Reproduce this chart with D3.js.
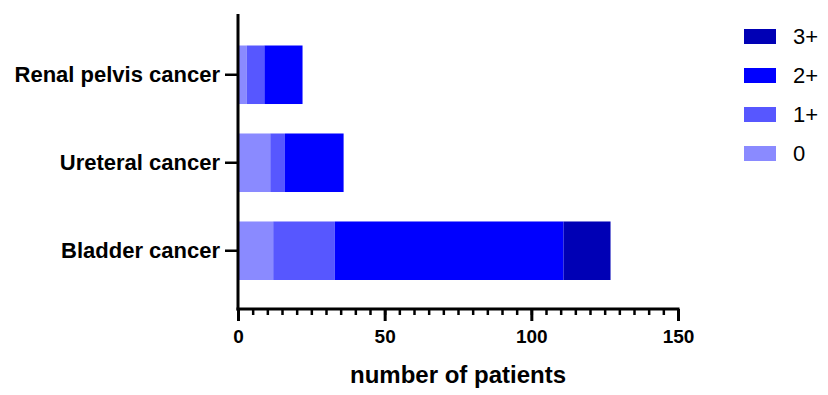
<!DOCTYPE html>
<html lang="en">
<head>
<meta charset="UTF-8">
<title>number of patients</title>
<style>
    body { margin: 0; background: #fff; }
    svg text { font-family: "Liberation Sans", Arial, sans-serif; }
    .axis path, .axis line { stroke: #000; }
</style>
<script src="https://d3js.org/d3.v7.min.js"></script>
</head>
<body>
<div id="chart"></div>
<script>
    // data
    var cancers = ["Renal pelvis cancer", "Ureteral cancer", "Bladder cancer"];
    var grades = ["0", "1+", "2+", "3+"];
    var grade0 = [3, 11, 12];
    var grade1 = [6, 5, 21];
    var grade2 = [13, 20, 78];
    var grade3 = [0, 0, 16];
    var xTicks = [0, 50, 100, 150];
    var colors = ["#8a8aff", "#5757ff", "#0000ff", "#0000b5"];

    var width = 828, height = 395;

    var rows = cancers.map(function(c, i) {
        return {cancer: c, "0": grade0[i], "1+": grade1[i], "2+": grade2[i], "3+": grade3[i]};
    });
    var stacked = d3.stack().keys(grades)(rows);

    var svg = d3.select("#chart").append("svg")
        .attr("width", width)
        .attr("height", height);

    var x = d3.scaleLinear().domain([0, 150]).range([238, 678]);

    var y = d3.scaleBand().domain(cancers)
        .range([45.5, 280]).paddingInner(0.335).paddingOuter(0);

    // bars
    svg.append("g").selectAll("g")
        .data(stacked)
        .enter().append("g")
        .attr("fill", function(d, i) { return colors[i]; })
        .selectAll("rect")
        .data(function(d) { return d; })
        .enter().append("rect")
        .attr("x", function(d) { return x(d[0]); })
        .attr("width", function(d) { return x(d[1]) - x(d[0]); })
        .attr("y", function(d) { return y(d.data.cancer); })
        .attr("height", y.bandwidth());

    // x axis, minor ticks every 5
    var axisY = 309;
    svg.append("g")
        .attr("class", "axis")
        .attr("transform", "translate(0," + axisY + ")")
        .call(d3.axisBottom(x).tickValues(d3.range(0, 151, 5)).tickSize(6).tickFormat(""))
        .call(function(g) {
            g.select(".domain").attr("stroke-width", 3).attr("d", "M" + (x(0) - 1.5) + ",0H" + (x(150) + 1.5));
            g.selectAll(".tick line").attr("stroke-width", 2.5);
        });

    svg.append("g")
        .attr("class", "axis")
        .attr("transform", "translate(0," + axisY + ")")
        .call(d3.axisBottom(x).tickValues(xTicks).tickSize(12).tickPadding(9))
        .call(function(g) {
            g.select(".domain").remove();
            g.selectAll(".tick line").attr("stroke-width", 3);
            g.selectAll(".tick text")
                .attr("fill", "#000")
                .attr("font-size", "19px")
                .attr("font-weight", "bold");
        });

    // y axis
    svg.append("g")
        .attr("class", "axis")
        .attr("transform", "translate(" + x(0) + ",0)")
        .call(d3.axisLeft(y).tickSize(13).tickPadding(5))
        .call(function(g) {
            g.select(".domain").attr("stroke-width", 3).attr("d", "M0,14V" + (axisY + 1.5));
            g.selectAll(".tick line").attr("stroke-width", 2.5);
            g.selectAll(".tick text")
                .attr("fill", "#000")
                .attr("font-size", "22px")
                .attr("font-weight", "bold");
        });

    // axis title
    svg.append("text")
        .attr("x", (x(0) + x(150)) / 2 + 0)
        .attr("y", 383)
        .attr("text-anchor", "middle")
        .attr("font-size", "24px")
        .attr("font-weight", "bold")
        .text("number of patients");

    // legend, top to bottom 3+ .. 0
    var legendOrder = grades.slice().reverse();
    var legend = svg.append("g").selectAll("g")
        .data(legendOrder)
        .enter().append("g")
        .attr("transform", function(d, i) { return "translate(744," + (29 + i * 39) + ")"; });

    legend.append("rect")
        .attr("width", 32)
        .attr("height", 15)
        .attr("fill", function(d) { return colors[grades.indexOf(d)]; });

    legend.append("text")
        .attr("x", 49)
        .attr("y", 7.5)
        .attr("dy", "0.35em")
        .attr("font-size", "22px")
        .attr("fill", "#000")
        .text(function(d) { return d; });
</script>
</body>
</html>
